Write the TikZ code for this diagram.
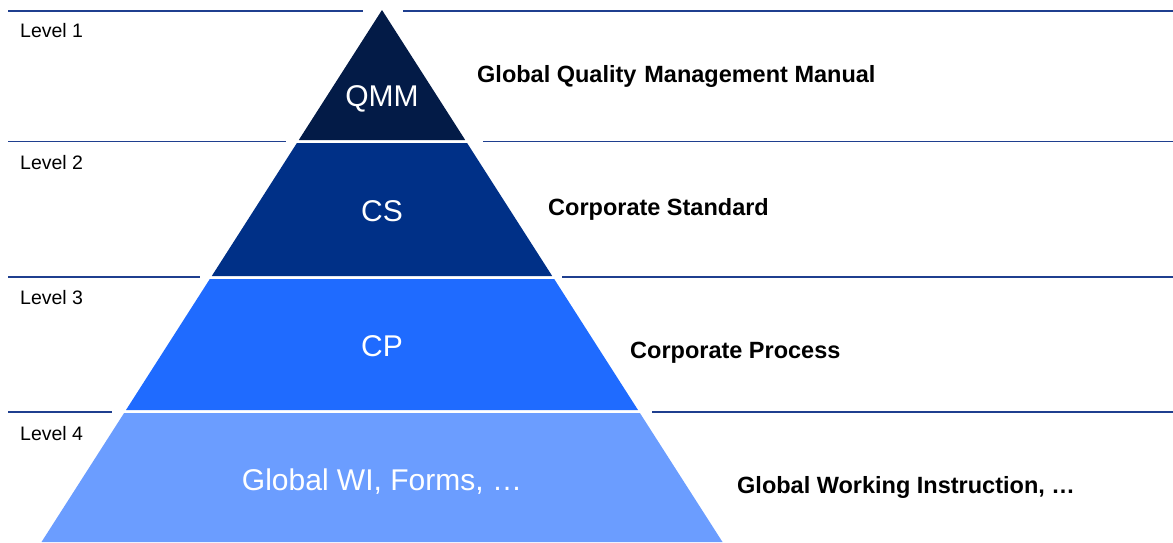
\documentclass[tikz,border=0pt]{standalone}
\usepackage{fontspec}
\setmainfont{Liberation Sans}
\definecolor{lvone}{HTML}{031B47}
\definecolor{lvtwo}{HTML}{003087}
\definecolor{lvthree}{HTML}{1F6BFF}
\definecolor{lvfour}{HTML}{6B9DFF}
\definecolor{rule}{HTML}{1F3F8F}
\begin{document}
\begin{tikzpicture}[x=1pt,y=-1pt,
  sep/.style={draw=rule,line width=1.7pt},
  lvl/.style={anchor=west,font=\fontsize{19.5}{23}\selectfont,text=black,inner sep=0pt},
  inner/.style={font=\fontsize{30}{34}\selectfont,text=white,inner sep=0pt},
  desc/.style={anchor=west,font=\fontsize{23.5}{27}\selectfont\bfseries,text=black,inner sep=0pt}]
\useasboundingbox (0,0) rectangle (1173,542);
% separator lines
\coordinate (l1a) at (8,11);   \coordinate (l1b) at (363,11);
\coordinate (r1a) at (403,11); \coordinate (r1b) at (1173,11);
\coordinate (l2a) at (8,141.5);   \coordinate (l2b) at (286,141.5);
\coordinate (r2a) at (483,141.5); \coordinate (r2b) at (1173,141.5);
\coordinate (l3a) at (8,277);   \coordinate (l3b) at (200,277);
\coordinate (r3a) at (562,277); \coordinate (r3b) at (1173,277);
\coordinate (l4a) at (8,412);   \coordinate (l4b) at (112,412);
\coordinate (r4a) at (652,412); \coordinate (r4b) at (1173,412);
\draw[sep] (l1a) -- (l1b); \draw[sep] (r1a) -- (r1b);
\draw[sep] (l2a) -- (l2b); \draw[sep] (r2a) -- (r2b);
\draw[sep] (l3a) -- (l3b); \draw[sep] (r3a) -- (r3b);
\draw[sep] (l4a) -- (l4b); \draw[sep] (r4a) -- (r4b);
% pyramid bands
\fill[lvone] (382,10) -- (465.2,140) -- (298.8,140) -- cycle;
\fill[lvtwo] (296.9,143) -- (467.1,143) -- (552.2,276) -- (211.8,276) -- cycle;
\fill[lvthree] (209.8,279) -- (554.2,279) -- (638,410) -- (126,410) -- cycle;
\fill[lvfour] (124.1,413) -- (639.9,413) -- (722.5,542) -- (41.5,542) -- cycle;
% inner labels
\node[inner] (qmm) at (382,99) {QMM};
\node[inner] (cs) at (382,211) {CS};
\node[inner] (cp) at (382,346) {CP};
\node[inner] (gwi) at (382,482) {Global WI, Forms, \ldots};
% level labels
\node[lvl] (lv1) at (20,31) {Level 1};
\node[lvl] (lv2) at (20,163) {Level 2};
\node[lvl] (lv3) at (20,298) {Level 3};
\node[lvl] (lv4) at (20,434) {Level 4};
% descriptions
\node[desc] (d1) at (477,76) {Global Quality\,\,Management Manual};
\node[desc] (d2) at (548,209) {Corporate Standard};
\node[desc] (d3) at (630,353) {Corporate Process};
\node[desc] (d4) at (737,487) {Global Working Instruction, \ldots};
\end{tikzpicture}
\end{document}
